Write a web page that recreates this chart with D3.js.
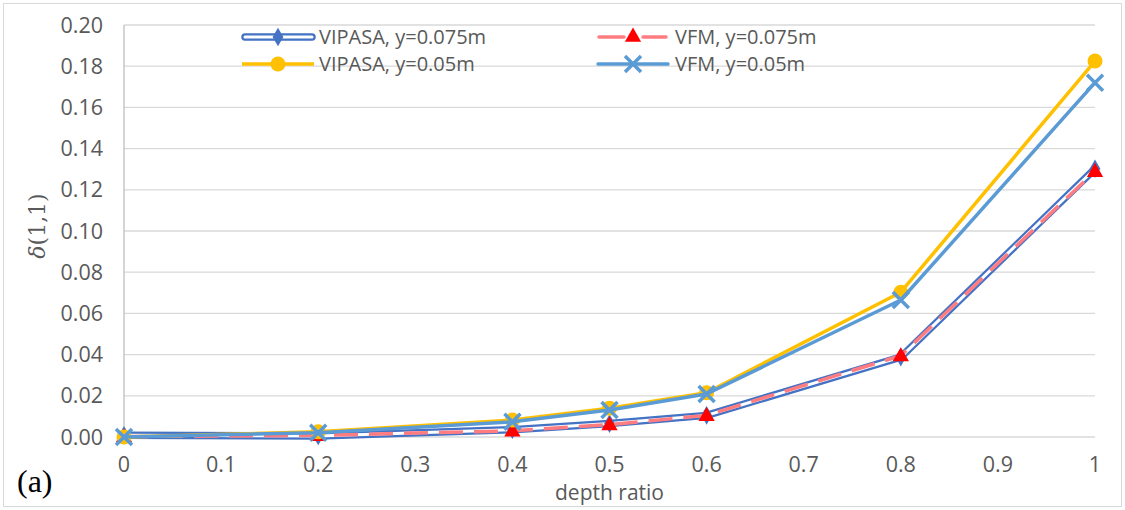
<!DOCTYPE html>
<html>
<head>
<meta charset="utf-8">
<script src="https://cdn.jsdelivr.net/npm/d3@7"></script>
<style>
  body { margin: 0; background: #fff; }
  svg text { font-family: "Open Sans", "Noto Sans", sans-serif; fill: #595959; }
</style>
</head>
<body>
<div id="chart"></div>
<script>
var width = 1125;
var height = 510;

// data
var depthRatio = [0, 0.2, 0.4, 0.5, 0.6, 0.8, 1];
var vipasa075 = [0.0008, 0.0005, 0.0035, 0.0065, 0.0105, 0.0388, 0.1302];
var vfm075 = [0.0002, 0.0008, 0.0030, 0.0060, 0.0105, 0.0395, 0.1290];
var vipasa05 = [0, 0.0025, 0.0082, 0.0140, 0.0215, 0.0703, 0.1825];
var vfm05 = [0, 0.0021, 0.0074, 0.0131, 0.0209, 0.0665, 0.1720];

var xTicks = d3.range(0, 11).map(d => d / 10);
var yTicks = d3.range(0, 11).map(d => d * 0.02);

var seriesNames = ['VIPASA, y=0.075m', 'VFM, y=0.075m', 'VIPASA, y=0.05m', 'VFM, y=0.05m'];

var svg = d3.select('#chart')
  .append('svg')
  .attr('width', width)
  .attr('height', height)

// chart frame
svg.append('rect')
  .attr('x', 3.5).attr('y', 3.5)
  .attr('width', width - 7).attr('height', height - 7)
  .attr('fill', '#fff')
  .attr('stroke', '#d9d9d9')
  .attr('stroke-width', 1)

var x = d3.scaleLinear().domain([0, 1]).range([124, 1095]);
var y = d3.scaleLinear().domain([0, 0.2]).range([437, 25]);

// gridlines
svg.append('g')
  .selectAll('line')
  .data(yTicks)
  .enter()
  .append('line')
  .attr('x1', x(0)).attr('x2', x(1))
  .attr('y1', d => y(d)).attr('y2', d => y(d))
  .attr('stroke', '#d9d9d9')
  .attr('stroke-width', 1.3)

// y axis line
svg.append('line')
  .attr('x1', x(0)).attr('x2', x(0))
  .attr('y1', y(0.2)).attr('y2', y(0))
  .attr('stroke', '#bfbfbf')
  .attr('stroke-width', 1.3)

// tick labels
svg.append('g')
  .selectAll('text')
  .data(yTicks)
  .enter()
  .append('text')
  .attr('x', 103)
  .attr('y', d => y(d) + 7.5)
  .attr('text-anchor', 'end')
  .style('font-size', '21.5px')
  .text(d => d3.format('.2f')(d))

svg.append('g')
  .selectAll('text')
  .data(xTicks)
  .enter()
  .append('text')
  .attr('x', d => x(d))
  .attr('y', 472)
  .attr('text-anchor', 'middle')
  .style('font-size', '21.5px')
  .text(d => d === 0 || d === 1 ? String(d) : d3.format('.1f')(d))

// axis titles
svg.append('text')
  .attr('x', x(0.5))
  .attr('y', 500)
  .attr('text-anchor', 'middle')
  .style('font-size', '21px')
  .text('depth ratio')

var yTitle = svg.append('text')
  .attr('transform', 'translate(45, 226) rotate(-90)')
  .attr('text-anchor', 'middle')
  .style('font-size', '22px')
yTitle.append('tspan')
  .style('font-family', '"DejaVu Serif", serif')
  .style('font-style', 'italic')
  .text('δ')
yTitle.append('tspan')
  .style('font-family', '"DejaVu Serif", serif')
  .text('(1,1)')

svg.append('text')
  .attr('x', 17)
  .attr('y', 492)
  .style('font-family', '"Liberation Serif", serif')
  .style('font-size', '32px')
  .style('fill', '#000')
  .text('(a)')

// series
var toPoints = values => values.map((v, i) => ({ x: depthRatio[i], y: v }));
var line = d3.line().x(d => x(d.x)).y(d => y(d.y));

var lines = svg.append('g');

// VIPASA y=0.075 : double (hollow) blue line
lines.append('path')
  .attr('d', line(toPoints(vipasa075)))
  .attr('fill', 'none')
  .attr('stroke', '#4472c4')
  .attr('stroke-width', 7.5)
  .attr('stroke-linejoin', 'round')
lines.append('path')
  .attr('d', line(toPoints(vipasa075)))
  .attr('fill', 'none')
  .attr('stroke', '#fff')
  .attr('stroke-width', 3)
  .attr('stroke-linejoin', 'round')

var diamond = d3.symbol().type(d3.symbolDiamond).size(100);
var triangle = d3.symbol().type(d3.symbolTriangle).size(115);

lines.selectAll('.dia')
  .data(toPoints(vipasa075))
  .enter()
  .append('path')
  .attr('transform', d => `translate(${x(d.x)},${y(d.y)})`)
  .attr('d', diamond)
  .attr('fill', '#4472c4')

// VFM y=0.075 : dashed pink, red triangles
lines.append('path')
  .attr('d', line(toPoints(vfm075)))
  .attr('fill', 'none')
  .attr('stroke', '#ff7c80')
  .attr('stroke-width', 3.5)
  .attr('stroke-dasharray', '24 11')

lines.selectAll('.tri')
  .data(toPoints(vfm075))
  .enter()
  .append('path')
  .attr('transform', d => `translate(${x(d.x)},${y(d.y) + 1})`)
  .attr('d', triangle)
  .attr('fill', '#ff0000')

// VIPASA y=0.05 : yellow with circles
lines.append('path')
  .attr('d', line(toPoints(vipasa05)))
  .attr('fill', 'none')
  .attr('stroke', '#ffc000')
  .attr('stroke-width', 3.5)
  .attr('stroke-linejoin', 'round')

lines.selectAll('.dot')
  .data(toPoints(vipasa05))
  .enter()
  .append('circle')
  .attr('cx', d => x(d.x))
  .attr('cy', d => y(d.y))
  .attr('r', 7.5)
  .attr('fill', '#ffc000')

// VFM y=0.05 : light blue with crosses
lines.append('path')
  .attr('d', line(toPoints(vfm05)))
  .attr('fill', 'none')
  .attr('stroke', '#5b9bd5')
  .attr('stroke-width', 3.5)
  .attr('stroke-linejoin', 'round')

var crossPath = 'M-8,-8L8,8M-8,8L8,-8';
lines.selectAll('.cross')
  .data(toPoints(vfm05))
  .enter()
  .append('path')
  .attr('transform', d => `translate(${x(d.x)},${y(d.y)})`)
  .attr('d', crossPath)
  .attr('stroke', '#5b9bd5')
  .attr('stroke-width', 3.5)
  .attr('fill', 'none')

// legend
var legendItems = [
  { name: seriesNames[0], x: 242, y: 37, kind: 'double' },
  { name: seriesNames[1], x: 598, y: 37, kind: 'dash' },
  { name: seriesNames[2], x: 242, y: 64, kind: 'circle' },
  { name: seriesNames[3], x: 598, y: 64, kind: 'cross' },
]
var legend = svg.append('g');
legendItems.forEach(item => {
  var g = legend.append('g').attr('transform', `translate(${item.x},${item.y})`);
  if (item.kind === 'double') {
    g.append('line').attr('x1', 3).attr('x2', 70).attr('stroke', '#4472c4').attr('stroke-width', 7.5).attr('stroke-linecap', 'round')
    g.append('line').attr('x1', 3).attr('x2', 70).attr('stroke', '#fff').attr('stroke-width', 3).attr('stroke-linecap', 'round')
    g.append('path').attr('d', diamond).attr('transform', 'translate(36,0)').attr('fill', '#4472c4')
  } else if (item.kind === 'dash') {
    g.append('line').attr('x1', 1).attr('x2', 26).attr('stroke', '#ff7c80').attr('stroke-width', 3.5).attr('stroke-linecap', 'round')
    g.append('line').attr('x1', 45).attr('x2', 68).attr('stroke', '#ff7c80').attr('stroke-width', 3.5).attr('stroke-linecap', 'round')
    g.append('path').attr('d', triangle).attr('transform', 'translate(35,0)').attr('fill', '#ff0000')
  } else if (item.kind === 'circle') {
    g.append('line').attr('x1', 0).attr('x2', 72).attr('stroke', '#ffc000').attr('stroke-width', 3.5)
    g.append('circle').attr('cx', 36).attr('r', 7.5).attr('fill', '#ffc000')
  } else {
    g.append('line').attr('x1', 0).attr('x2', 70).attr('stroke', '#5b9bd5').attr('stroke-width', 3.5).attr('stroke-linecap', 'round')
    g.append('path').attr('d', crossPath).attr('transform', 'translate(35,0)').attr('stroke', '#5b9bd5').attr('stroke-width', 3.5)
  }
  g.append('text')
    .attr('x', 77)
    .attr('y', 7)
    .style('font-size', '20px')
    .text(item.name)
})
</script>
</body>
</html>
